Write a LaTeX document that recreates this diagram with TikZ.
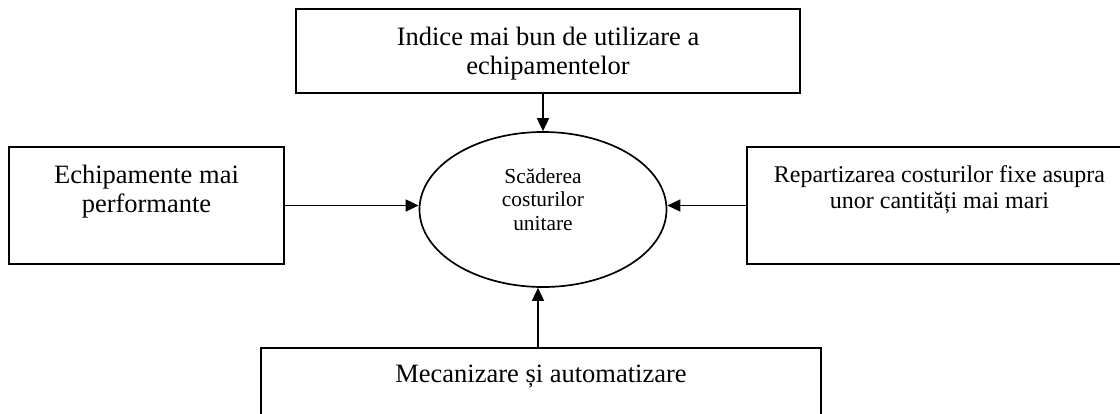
\documentclass[tikz,border=0pt]{standalone}
\usepackage{fontspec}
\setmainfont{Liberation Serif}
\usetikzlibrary{arrows.meta,positioning,shapes.geometric}

\begin{document}
\begin{tikzpicture}[x=1pt,y=-1pt,line width=1.7pt,>={Triangle[length=13pt,width=12pt]},
  box/.style={draw,rectangle,inner sep=0pt},
  txt/.style={inner sep=0pt,align=center,font=\fontsize{26.5}{29.5}\selectfont},
  smalltxt/.style={inner sep=0pt,align=center,font=\fontsize{24}{25.5}\selectfont},
  elltxt/.style={inner sep=0pt,align=center,font=\fontsize{21.4}{23.7}\selectfont}]
\useasboundingbox(0,0)rectangle(1120,413);
% centre
\node[draw,ellipse,minimum width=247pt,minimum height=155pt,inner sep=0pt](cost)at(543,209.5){};
\node[elltxt,below=36.4pt of cost.north](costt){Scăderea\\costurilor\\unitare};
% boxes
\node[box,minimum width=504pt,minimum height=84pt](util)at(548,51){};
\node[txt,below=17.9pt of util.north](utilt){Indice mai bun de utilizare a\\echipamentelor};
\node[box,minimum width=275pt,minimum height=117pt](perf)at(146.5,205.5){};
\node[txt,below=17.9pt of perf.north](perft){Echipamente mai\\performante};
\node[box,minimum width=385pt,minimum height=117pt](fix)at(939.5,205.5){};
\node[smalltxt,below=18.6pt of fix.north](fixt){Repartizarea costurilor fixe asupra\\unor cantități mai mari};
\node[box,minimum width=560pt,minimum height=82pt](mec)at(541,389){};
\node[txt,below=16.9pt of mec.north](mect){Mecanizare și automatizare};
% arrows
\draw[->](cost.north|-util.south)--(cost.north);
\draw[->](perf.east)--(perf.east-|cost.west);
\draw[->](fix.west)--(fix.west-|cost.east);
\draw[->]([xshift=-5pt]cost.south|-mec.north)--([xshift=-5pt]cost.south);
\end{tikzpicture}
\end{document}
